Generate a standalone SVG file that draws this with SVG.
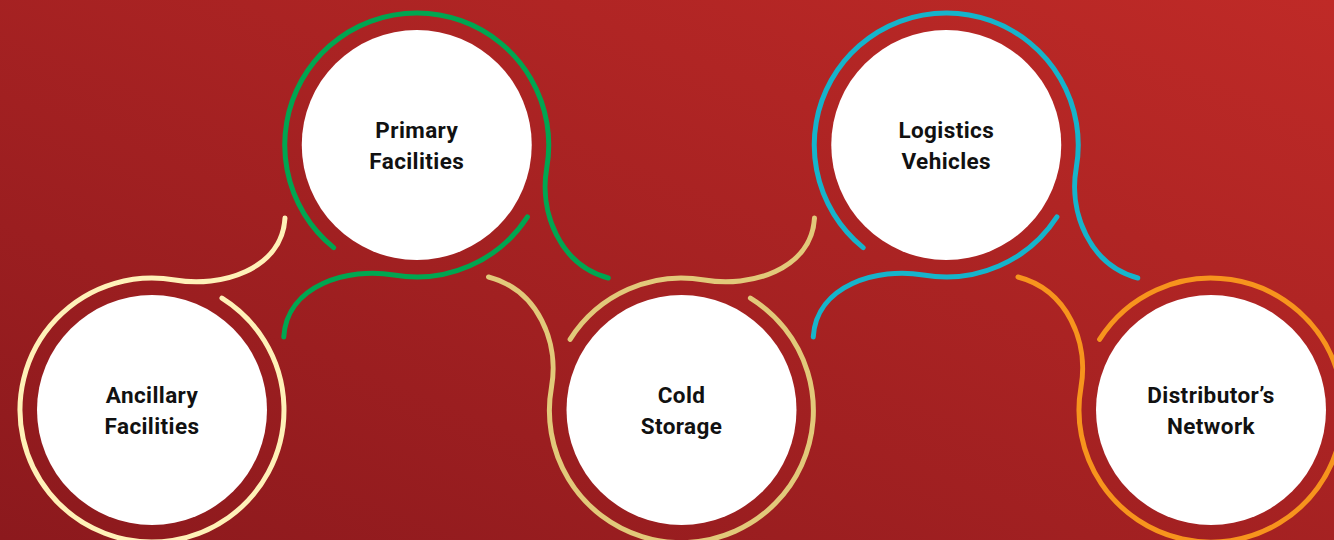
<svg xmlns="http://www.w3.org/2000/svg" width="1334" height="540" viewBox="0 0 1334 540">
  <defs>
    <linearGradient id="bg" x1="0" y1="1" x2="1" y2="0">
      <stop offset="0" stop-color="#8C191D"/>
      <stop offset="1" stop-color="#BF2A27"/>
    </linearGradient>
  </defs>
  <style>
    .ring { fill: none; stroke-width: 5; stroke-linecap: round; }
    .cream { stroke: #FFF1B8; }
    .green { stroke: #00A651; }
    .tan { stroke: #E2C97A; }
    .cyan { stroke: #16B4CB; }
    .orange { stroke: #F7941D; }
    .disc { fill: #FFFFFF; }
    .label { font-family: Roboto, "Liberation Sans", sans-serif; font-weight: 700; font-size: 22.5px; letter-spacing: 0.4px; fill: #111111; text-anchor: middle; }
  </style>

  <rect width="1334" height="540" fill="url(#bg)"/>

  <!-- ring strokes with the S-shaped links between neighbouring nodes -->
  <g id="connectors">
    <!-- Ancillary Facilities -->
    <path class="ring cream" transform="translate(152,410)" d="M 69.95 -111.94 A 132 132 0 1 1 22.92 -130 C 68.2 -122 130 -140 133 -192"/>
    <!-- Primary Facilities -->
    <path class="ring green" transform="translate(416.75,145)" d="M -83.07 102.58 A 132 132 0 1 1 130 22.92 C 122.2 67.2 143 120 191.5 133"/>
    <path class="ring green" transform="translate(416.75,145)" d="M 110.7 71.9 A 132 132 0 0 1 -22.92 130 C -68.2 122 -130 140 -133 192"/>
    <!-- Cold Storage -->
    <path class="ring tan" transform="translate(681.5,410)" d="M -193 -133 C -143 -120 -122.2 -67.2 -130 -22.92 A 132 132 0 1 0 68.9 -111.9"/>
    <path class="ring tan" transform="translate(681.5,410)" d="M -111.4 -70.7 A 132 132 0 0 1 22.92 -130 C 68.2 -122 130 -140 133 -192"/>
    <!-- Logistics Vehicles -->
    <path class="ring cyan" transform="translate(946.25,145)" d="M -83.07 102.58 A 132 132 0 1 1 130 22.92 C 122.2 67.2 143 120 191.5 133"/>
    <path class="ring cyan" transform="translate(946.25,145)" d="M 110.7 71.9 A 132 132 0 0 1 -22.92 130 C -68.2 122 -130 140 -133 192"/>
    <!-- Distributor's Network -->
    <path class="ring orange" transform="translate(1211,410)" d="M -193 -133 C -143 -120 -122.2 -67.2 -130 -22.92 A 132 132 0 0 0 127.5 34.2"/>
    <path class="ring orange" transform="translate(1211,410)" d="M -111.4 -70.7 A 132 132 0 0 1 127.5 -34.2"/>
  </g>

  <g id="node-ancillary" transform="translate(152,410)">
    <circle class="disc" r="115"/>
    <text class="label"><tspan x="0" y="-7">Ancillary</tspan><tspan x="0" y="24">Facilities</tspan></text>
  </g>
  <g id="node-primary" transform="translate(416.75,145)">
    <circle class="disc" r="115"/>
    <text class="label"><tspan x="0" y="-7">Primary</tspan><tspan x="0" y="24">Facilities</tspan></text>
  </g>
  <g id="node-cold-storage" transform="translate(681.5,410)">
    <circle class="disc" r="115"/>
    <text class="label"><tspan x="0" y="-7">Cold</tspan><tspan x="0" y="24">Storage</tspan></text>
  </g>
  <g id="node-logistics" transform="translate(946.25,145)">
    <circle class="disc" r="115"/>
    <text class="label"><tspan x="0" y="-7">Logistics</tspan><tspan x="0" y="24">Vehicles</tspan></text>
  </g>
  <g id="node-distributor" transform="translate(1211,410)">
    <circle class="disc" r="115"/>
    <text class="label"><tspan x="0" y="-7">Distributor’s</tspan><tspan x="0" y="24">Network</tspan></text>
  </g>
</svg>
